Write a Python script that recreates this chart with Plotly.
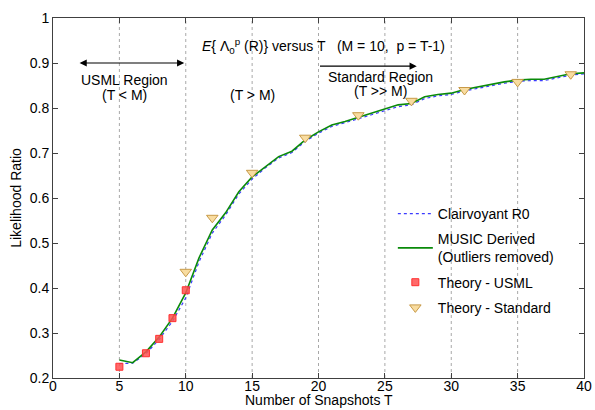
import plotly.graph_objects as go

T_curve = list(range(5, 41))
music = [0.240, 0.234, 0.258, 0.291, 0.333, 0.389, 0.467, 0.529, 0.567, 0.614,
         0.647, 0.670, 0.692, 0.704, 0.729, 0.747, 0.762, 0.770, 0.779, 0.788,
         0.797, 0.807, 0.810, 0.825, 0.830, 0.833, 0.841, 0.847, 0.853, 0.858,
         0.862, 0.864, 0.864, 0.870, 0.876, 0.878]
clair = [0.232, 0.233, 0.254, 0.286, 0.326, 0.378, 0.458, 0.522, 0.562, 0.609,
         0.642, 0.667, 0.689, 0.701, 0.726, 0.744, 0.759, 0.767, 0.776, 0.785,
         0.794, 0.803, 0.807, 0.821, 0.827, 0.830, 0.838, 0.844, 0.850, 0.855,
         0.859, 0.861, 0.861, 0.867, 0.873, 0.876]
T_usml = [5, 7, 8, 9, 10]
usml = [0.225, 0.255, 0.287, 0.333, 0.395]
T_std = [10, 12, 15, 19, 23, 27, 31, 35, 39]
std = [0.436, 0.556, 0.656, 0.734, 0.784, 0.816, 0.840, 0.858, 0.875]
x_ticks = [0, 5, 10, 15, 20, 25, 30, 35, 40]
y_ticks = [0.2, 0.3, 0.4, 0.5, 0.6, 0.7, 0.8, 0.9, 1.0]
y_labels = ["0.2", "0.3", "0.4", "0.5", "0.6", "0.7", "0.8", "0.9", "1"]

FONT = "Liberation Sans, Arial, sans-serif"
FS = 14
fig = go.Figure()
fig.add_trace(go.Scatter(x=T_curve, y=clair, mode="lines", name="Clairvoyant R0",
                         line=dict(color="#3b3bff", width=1.2, dash="dot"), legendgroup="a"))
fig.add_trace(go.Scatter(x=T_curve, y=music, mode="lines", name="MUSIC Derived<br>(Outliers removed)",
                         line=dict(color="#0a8a0a", width=1.6), legendgroup="b"))
fig.add_trace(go.Scatter(x=T_usml, y=usml, mode="markers", name="Theory - USML",
                         marker=dict(symbol="square", size=7, color="rgba(255,80,80,0.85)",
                                     line=dict(color="#ff3030", width=1)), legendgroup="c"))
fig.add_trace(go.Scatter(x=T_std, y=std, mode="markers", name="Theory - Standard",
                         marker=dict(symbol="triangle-down", size=10, color="#f8dca0",
                                     line=dict(color="#c89a48", width=1)), legendgroup="d"))

axcol = "#404040"
fig.update_xaxes(range=[0, 40], tickvals=x_ticks, ticks="inside", ticklen=5, tickcolor=axcol,
                 showline=True, linecolor=axcol, linewidth=1, mirror="allticks",
                 showgrid=False, zeroline=False, automargin=False, ticklabelstandoff=-5,
                 tickfont=dict(family=FONT, size=FS, color="black"))
fig.update_yaxes(range=[0.2, 1.0], tickvals=y_ticks, ticktext=y_labels, ticks="inside", ticklen=5,
                 tickcolor=axcol, showline=True, linecolor=axcol, linewidth=1, mirror="allticks",
                 showgrid=False, zeroline=False, automargin=False,
                 tickfont=dict(family=FONT, size=FS, color="black"),
                 title=dict(text="Likelihood Ratio", font=dict(family=FONT, size=FS, color="black"),
                            standoff=4))

# x-axis title as annotation (tight spacing like the reference)
fig.add_annotation(x=0.5, y=-0.061, xref="paper", yref="paper", yanchor="middle",
                   text="Number of Snapshots T", showarrow=False,
                   font=dict(family=FONT, size=FS, color="black"))

# vertical dotted grid lines
for xv in x_ticks[1:-1]:
    fig.add_shape(type="line", x0=xv, x1=xv, y0=0.2, y1=1.0, xref="x", yref="y",
                  line=dict(color="#a8a8a8", width=1, dash="dot"), layer="below")

# arrows
fig.add_annotation(x=2.0, y=0.9, ax=10.0, ay=0.9, xref="x", yref="y", axref="x", ayref="y",
                   text="", showarrow=True, arrowhead=2, arrowsize=1.2, arrowwidth=1.2,
                   arrowcolor="black", arrowside="end+start")
fig.add_annotation(x=27.4, y=0.893, ax=20.0, ay=0.893, xref="x", yref="y", axref="x", ayref="y",
                   text="", showarrow=True, arrowhead=2, arrowsize=1.2, arrowwidth=1.2,
                   arrowcolor="black")

def txt(x, y, s, size=FS):
    fig.add_annotation(x=x, y=y, xref="x", yref="y", text=s, showarrow=False,
                       font=dict(family=FONT, size=size, color="black"))

txt(5.4, 0.862, "USML Region")
txt(5.4, 0.829, "(T &lt; M)")
txt(15.0, 0.829, "(T &gt; M)")
txt(24.7, 0.868, "Standard Region")
txt(24.7, 0.837, "(T &gt;&gt; M)")
fig.add_annotation(x=0.51, y=0.955, xref="paper", yref="paper",
                   text="<i>E</i>{ Λ<sub>0</sub><sup>p</sup> (R)} versus T   (M = 10,  p = T-1)",
                   showarrow=False, font=dict(family=FONT, size=FS, color="black"))

fig.update_layout(
    width=595, height=410,
    margin=dict(l=53, r=11, t=18, b=32),
    plot_bgcolor="white", paper_bgcolor="white",
    legend=dict(x=0.64, y=0.5, xanchor="left", yanchor="top", bgcolor="rgba(0,0,0,0)",
                font=dict(family=FONT, size=FS, color="black"), traceorder="grouped",
                tracegroupgap=4, itemwidth=35),
)
fig.write_html("out.html", config={"displayModeBar": False},
               post_script="document.body.style.margin='0';document.body.style.overflow='hidden';")
